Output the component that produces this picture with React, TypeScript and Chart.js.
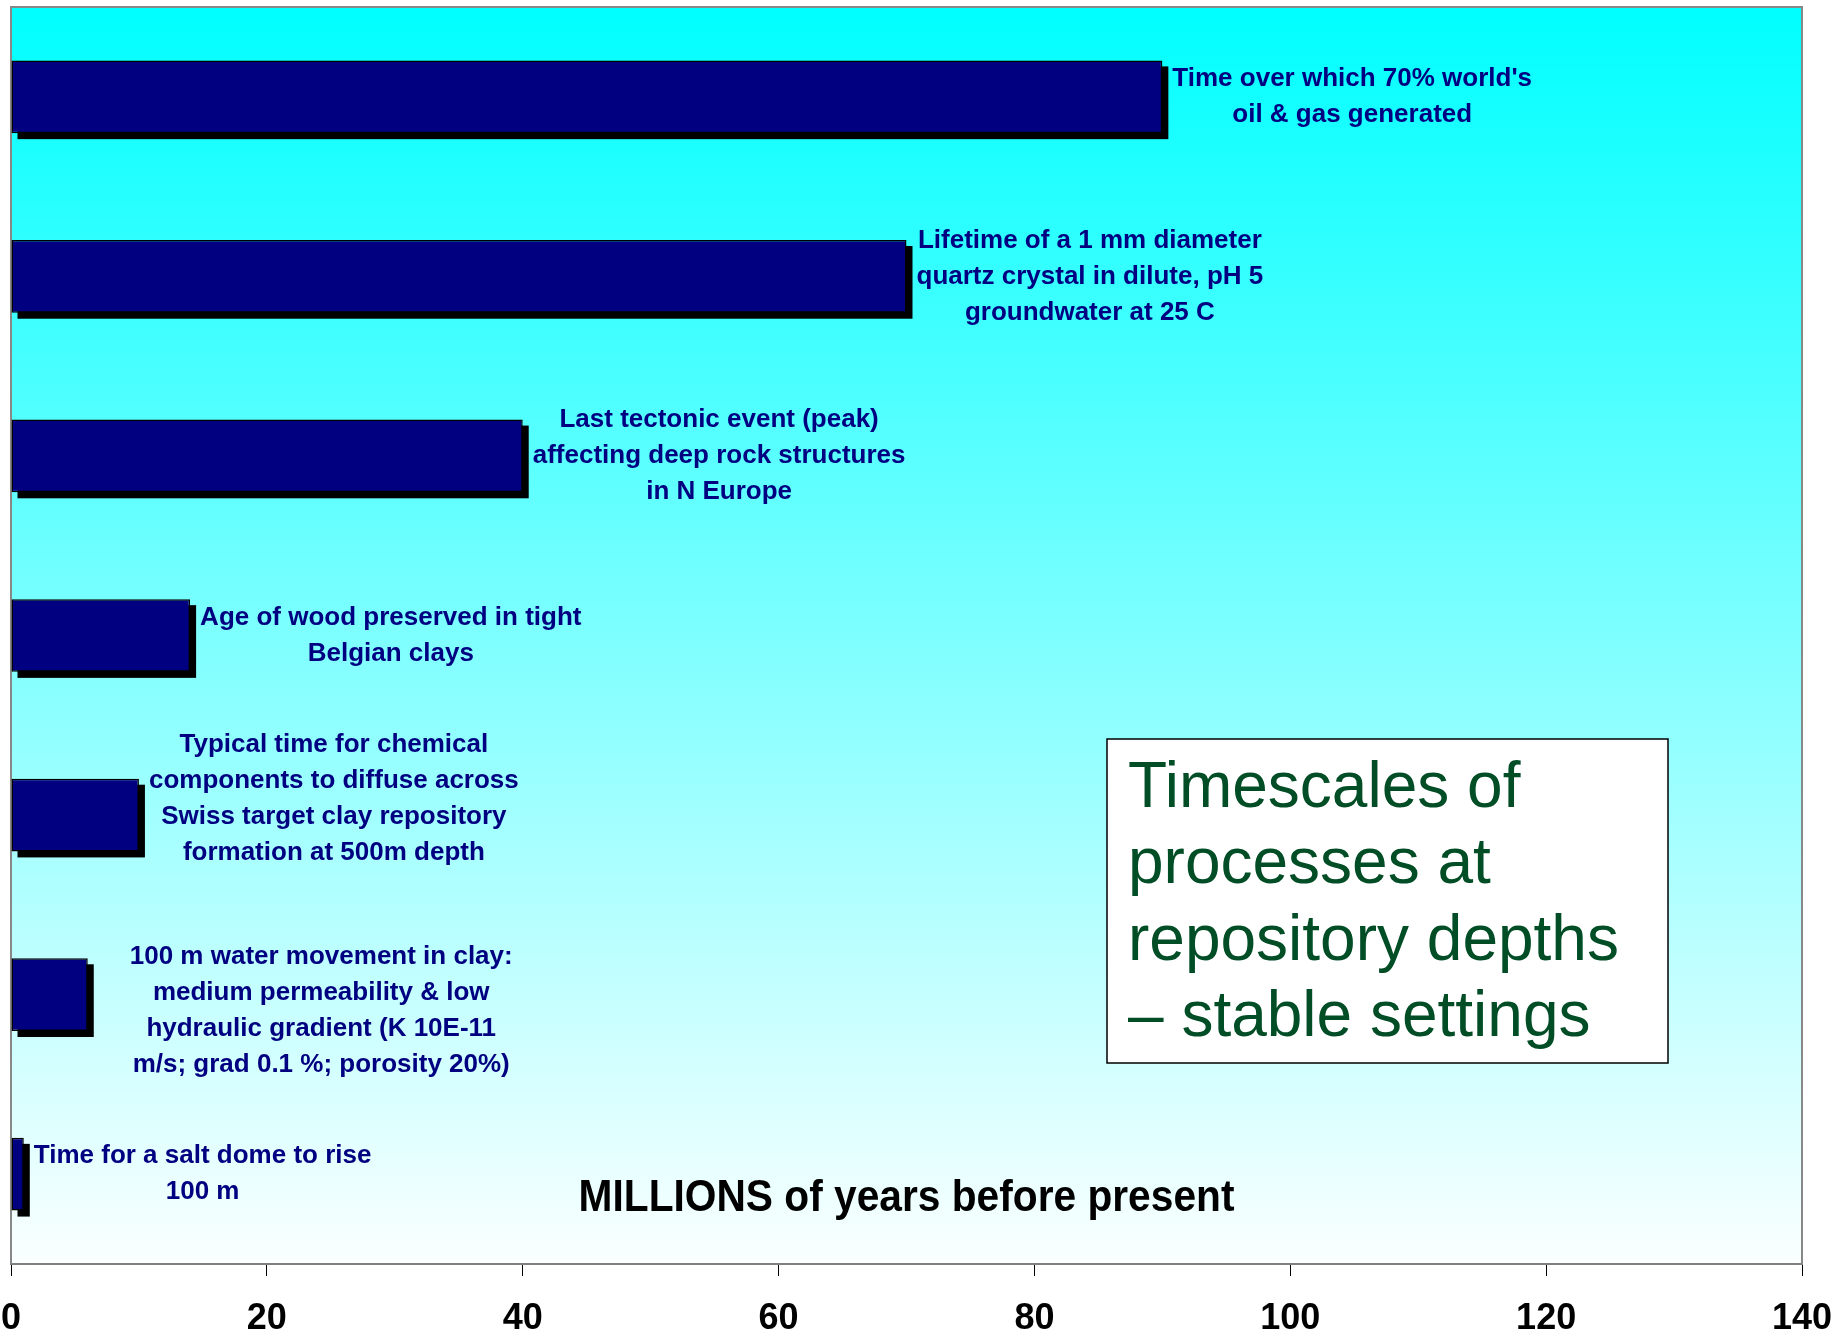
import React, { useEffect, useRef } from "react";
import { Chart, registerables } from "chart.js";

Chart.register(...registerables);

// ---------- data ----------
const categories: string[][] = [
  ["Time over which 70% world's", "oil & gas generated"],
  ["Lifetime of a 1 mm diameter", "quartz crystal in dilute, pH 5", "groundwater at 25 C"],
  ["Last tectonic event (peak)", "affecting deep rock structures", "in N Europe"],
  ["Age of wood preserved in tight", "Belgian clays"],
  ["Typical time for chemical", "components to diffuse across", "Swiss target clay repository", "formation at 500m depth"],
  ["100 m water movement in clay:", "medium permeability & low", "hydraulic gradient (K 10E-11", "m/s; grad 0.1 %; porosity 20%)"],
  ["Time for a salt dome to rise", "100 m"],
];
const durations = [90, 70, 40, 14, 10, 6, 1];
const xTickValues = [0, 20, 40, 60, 80, 100, 120, 140];
const axisCaption = "MILLIONS of years before present";
const boxTitleLines = ["Timescales of", "processes at", "repository depths", "\u2013 stable settings"];

// ---------- styles ----------
const FONT = '"Liberation Sans", Arial, Helvetica, sans-serif';
const NAVY = "#000080";
const labelNudges: [number, number][] = [
  [0, 0], [0, 0], [0, 0], [0, 0], [0, -16], [32, 16], [0, 0],
];

const decorPlugin = {
  id: "decor",
  beforeDraw(chart: any) {
    const { ctx, chartArea: a } = chart;
    ctx.save();
    const g = ctx.createLinearGradient(0, a.top, 0, a.bottom);
    g.addColorStop(0, "#00ffff");
    g.addColorStop(1, "#fbffff");
    ctx.fillStyle = g;
    ctx.fillRect(a.left, a.top, a.right - a.left, a.bottom - a.top);
    ctx.restore();
  },
  beforeDatasetsDraw(chart: any) {
    const { ctx, chartArea: a } = chart;
    ctx.save();
    // frame
    ctx.strokeStyle = "#888888";
    ctx.lineWidth = 2;
    ctx.beginPath();
    ctx.moveTo(a.left, a.bottom);
    ctx.lineTo(a.left, a.top);
    ctx.lineTo(a.right, a.top);
    ctx.lineTo(a.right, a.bottom);
    ctx.stroke();
    // shadows
    const meta = chart.getDatasetMeta(0);
    ctx.fillStyle = "#000000";
    const off = 6;
    meta.data.forEach((el: any) => {
      const p = el.getProps(["x", "y", "base", "height"], true);
      ctx.fillRect(p.base + off, p.y - p.height / 2 + off, p.x - p.base, p.height);
    });
    ctx.restore();
  },
  afterDatasetsDraw(chart: any) {
    const { ctx, chartArea: a } = chart;
    const meta = chart.getDatasetMeta(0);
    ctx.save();
    // data labels
    ctx.font = `bold 26px ${FONT}`;
    ctx.fillStyle = NAVY;
    ctx.textAlign = "center";
    ctx.textBaseline = "middle";
    const lh = 36;
    meta.data.forEach((el: any, i: number) => {
      const p = el.getProps(["x", "y"], true);
      const lines = categories[i];
      const w = Math.max(...lines.map((l) => ctx.measureText(l).width));
      const [dx, dy] = labelNudges[i];
      const cx = p.x + 10 + dx + w / 2;
      const cy = p.y + dy;
      lines.forEach((l, k) => {
        ctx.fillText(l, cx, cy + (k - (lines.length - 1) / 2) * lh);
      });
    });

    // axis caption inside plot
    ctx.save();
    ctx.font = `bold 44px ${FONT}`;
    ctx.fillStyle = "#000000";
    const capX = (a.left + a.right) / 2;
    const capY = 1199;
    ctx.translate(capX, capY);
    ctx.scale(0.925, 1);
    ctx.fillText(axisCaption, 0, 0);
    ctx.restore();

    // title box
    const bx = 1107, by = 739, bw = 561, bh = 324;
    ctx.fillStyle = "#ffffff";
    ctx.fillRect(bx, by, bw, bh);
    ctx.strokeStyle = "#000000";
    ctx.lineWidth = 1.5;
    ctx.strokeRect(bx, by, bw, bh);
    ctx.font = `64px ${FONT}`;
    ctx.fillStyle = "#004d26";
    ctx.textAlign = "left";
    ctx.textBaseline = "middle";
    boxTitleLines.forEach((l, k) => {
      ctx.fillText(l, 1128, 789 + k * 76.5);
    });
    ctx.restore();
  },
};

export default function App() {
  const ref = useRef<HTMLCanvasElement | null>(null);
  useEffect(() => {
    document.body.style.margin = "0";
    const canvas = ref.current;
    if (!canvas) return;
    const chart = new Chart(canvas, {
      type: "bar",
      data: {
        labels: categories.map((c) => c.join(" ")),
        datasets: [
          {
            data: durations,
            backgroundColor: NAVY,
            borderColor: "#000000",
            borderWidth: 1.5,
            borderSkipped: false,
            barPercentage: 0.405,
            categoryPercentage: 1,
          },
        ],
      },
      options: {
        indexAxis: "y",
        animation: false,
        responsive: false,
        devicePixelRatio: 1,
        layout: { padding: { left: 11, top: 7, right: 37, bottom: 0 } },
        plugins: {
          legend: { display: false },
          tooltip: { enabled: false },
          title: { display: false },
        },
        scales: {
          y: { type: "category", display: false },
          x: {
            type: "linear",
            min: 0,
            max: 140,
            afterBuildTicks: (scale: any) => {
              scale.ticks = xTickValues.map((v) => ({ value: v }));
            },
            afterFit: (scale: any) => {
              scale.height = 71;
              scale.paddingLeft = 0;
              scale.paddingRight = 0;
            },
            border: { display: true, color: "#808080", width: 2 },
            grid: {
              display: true,
              drawOnChartArea: false,
              drawTicks: true,
              tickLength: 12,
              tickColor: "#000000",
              tickWidth: 1,
            },
            ticks: {
              color: "#000000",
              padding: 21,
              maxRotation: 0,
              autoSkip: false,
              font: { family: FONT, size: 36, weight: "bold" },
            },
          },
        },
      },
      plugins: [decorPlugin],
    } as any);
    return () => chart.destroy();
  }, []);
  return (
    <div style={{ width: 1839, height: 1335 }}>
      <canvas ref={ref} width={1839} height={1335} style={{ display: "block" }} />
    </div>
  );
}
